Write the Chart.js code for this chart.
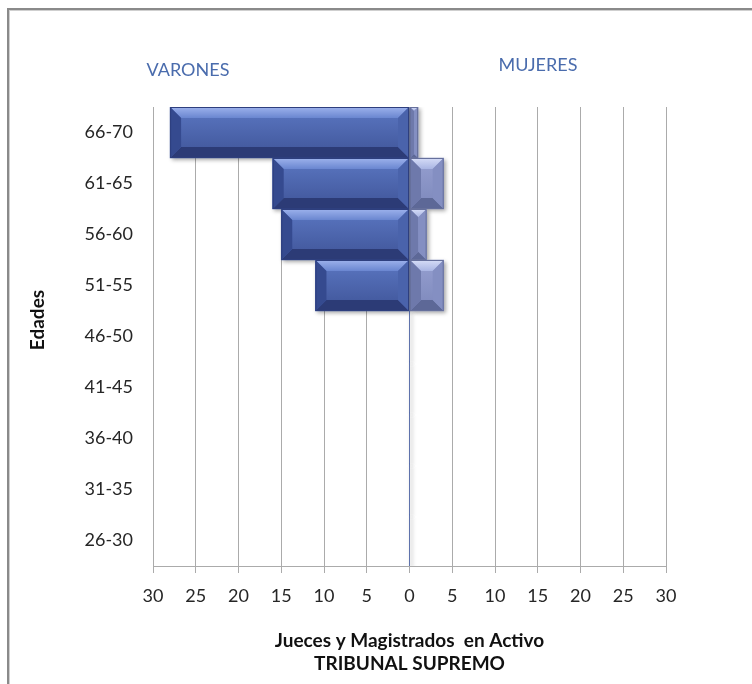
<!DOCTYPE html>
<html>
<head>
<meta charset="utf-8">
<script src="https://cdn.jsdelivr.net/npm/chart.js@4"></script>
<style>
  html, body { margin: 0; padding: 0; background: #ffffff; }
  #wrap { position: relative; width: 752px; height: 684px; overflow: hidden; }
  #frame {
    position: absolute; left: 7px; top: 8px; width: 800px; height: 720px;
    border-top: 2px solid #8a8a8a; border-left: 2px solid #8a8a8a;
    box-shadow: inset 1px 1px 0 #cfcfcf; pointer-events: none;
  }
</style>
</head>
<body>
<div id="wrap">
  <canvas id="c" width="752" height="684"></canvas>
  <div id="frame"></div>
</div>
<script>
// Age groups, top to bottom
const edades = ['66-70', '61-65', '56-60', '51-55', '46-50', '41-45', '36-40', '31-35', '26-30'];
// Active judges and magistrates per age group
const varones = [28, 16, 15, 11, 0, 0, 0, 0, 0];
const mujeres = [1, 4, 2, 4, 0, 0, 0, 0, 0];
// Axis range and step
const xMin = -30, xMax = 30, xStep = 5;

const FONT = 'Lato, "Open Sans", "DejaVu Sans", sans-serif';

// Bevel shading for each series
const palettes = [
  { faceTop: '#5b77c2', faceBottom: '#3f5498', bevTop: '#9db2ec', bevTop2: '#6a86d0',
    bottom: '#2c3b76', left: '#354a8f', right: '#4a63ab', edge: '#2e3f7e', base: '#4660a8' },
  { faceTop: '#959fd0', faceBottom: '#7d88bb', bevTop: '#d6ddf7', bevTop2: '#a9b5e3',
    bottom: '#5d6897', left: '#6e79ab', right: '#848fc2', edge: '#66709c', base: '#8893c5' }
];

const bevelPlugin = {
  id: 'bevel',
  afterDatasetsDraw(chart) {
    const ctx = chart.ctx;
    chart.data.datasets.forEach((ds, di) => {
      const meta = chart.getDatasetMeta(di);
      const pal = palettes[di];
      meta.data.forEach(el => {
        const p = el.getProps(['x', 'y', 'base', 'height'], true);
        const l = Math.min(p.x, p.base), r = Math.max(p.x, p.base);
        const t = p.y - p.height / 2, b = p.y + p.height / 2;
        const w = r - l, h = b - t;
        if (w < 0.5) return;
        const bv = Math.min(11, w / 2, h / 2);
        ctx.save();
        const poly = (pts, fill) => {
          ctx.beginPath();
          ctx.moveTo(pts[0][0], pts[0][1]);
          for (let i = 1; i < pts.length; i++) ctx.lineTo(pts[i][0], pts[i][1]);
          ctx.closePath();
          ctx.fillStyle = fill;
          ctx.fill();
        };
        const face = ctx.createLinearGradient(0, t, 0, b);
        face.addColorStop(0, pal.faceTop);
        face.addColorStop(1, pal.faceBottom);
        ctx.fillStyle = face;
        ctx.fillRect(l, t, w, h);
        const topG = ctx.createLinearGradient(0, t, 0, t + bv);
        topG.addColorStop(0, pal.bevTop);
        topG.addColorStop(1, pal.bevTop2);
        poly([[l, t], [r, t], [r - bv, t + bv], [l + bv, t + bv]], topG);
        poly([[l, b], [r, b], [r - bv, b - bv], [l + bv, b - bv]], pal.bottom);
        poly([[l, t], [l + bv, t + bv], [l + bv, b - bv], [l, b]], pal.left);
        poly([[r, t], [r - bv, t + bv], [r - bv, b - bv], [r, b]], pal.right);
        ctx.strokeStyle = pal.edge;
        ctx.lineWidth = 1;
        ctx.strokeRect(l + 0.5, t + 0.5, w - 1, h - 1);
        ctx.restore();
      });
    });
  }
};

// Soft drop shadow under the bars
const shadowPlugin = {
  id: 'barShadow',
  beforeDatasetsDraw(chart) {
    const ctx = chart.ctx;
    ctx.save();
    ctx.shadowColor = 'rgba(0,0,0,0.35)';
    ctx.shadowBlur = 4;
    ctx.shadowOffsetX = 2;
    ctx.shadowOffsetY = 2;
  },
  afterDatasetsDraw(chart) {
    chart.ctx.restore();
  }
};

// Side headings and the vertical axis caption
const textPlugin = {
  id: 'sideText',
  afterDraw(chart) {
    const ctx = chart.ctx;
    const a = chart.chartArea;
    ctx.save();
    ctx.fillStyle = '#4a6cad';
    ctx.font = '18px ' + FONT;
    ctx.textAlign = 'center';
    ctx.textBaseline = 'middle';
    ctx.fillText('VARONES', a.left + 35, 70);
    ctx.fillText('MUJERES', a.left + 385, 65);
    ctx.fillStyle = '#111111';
    ctx.font = 'bold 19px ' + FONT;
    ctx.translate(38, 320);
    ctx.rotate(-Math.PI / 2);
    ctx.fillText('Edades', 0, 0);
    ctx.restore();
  }
};

new Chart(document.getElementById('c'), {
  type: 'bar',
  data: {
    labels: edades,
    datasets: [
      { label: 'VARONES', data: varones.map(v => -v), backgroundColor: palettes[0].base, borderWidth: 0 },
      { label: 'MUJERES', data: mujeres, backgroundColor: palettes[1].base, borderWidth: 0 }
    ]
  },
  options: {
    indexAxis: 'y',
    responsive: false,
    animation: false,
    devicePixelRatio: 1,
    barPercentage: 1,
    categoryPercentage: 1,
    layout: { padding: { top: 107, right: 86, left: 0, bottom: 0 } },
    plugins: { legend: { display: false }, tooltip: { enabled: false } },
    scales: {
      x: {
        stacked: true,
        min: xMin, max: xMax,
        afterFit(scale) { scale.height = 118; },
        ticks: {
          stepSize: xStep,
          padding: 12,
          color: '#262626',
          font: { family: FONT, size: 18 },
          callback: v => Math.abs(v)
        },
        grid: {
          color: '#ababab',
          lineWidth: 1,
          tickLength: 7,
          tickColor: '#ababab'
        },
        border: { display: true, color: '#ababab' },
        title: {
          display: true,
          text: ['Jueces y Magistrados  en Activo', 'TRIBUNAL SUPREMO'],
          color: '#111111',
          font: { family: FONT, size: 19, weight: 'bold', lineHeight: 1.18 },
          padding: { top: 0, bottom: 9 }
        }
      },
      y: {
        stacked: true,
        afterFit(scale) { scale.width = 153; },
        ticks: {
          padding: 20,
          color: '#262626',
          font: { family: FONT, size: 18 }
        },
        grid: { display: false, drawTicks: false },
        border: { display: false }
      }
    }
  },
  plugins: [shadowPlugin, bevelPlugin, textPlugin]
});
</script>
</body>
</html>
